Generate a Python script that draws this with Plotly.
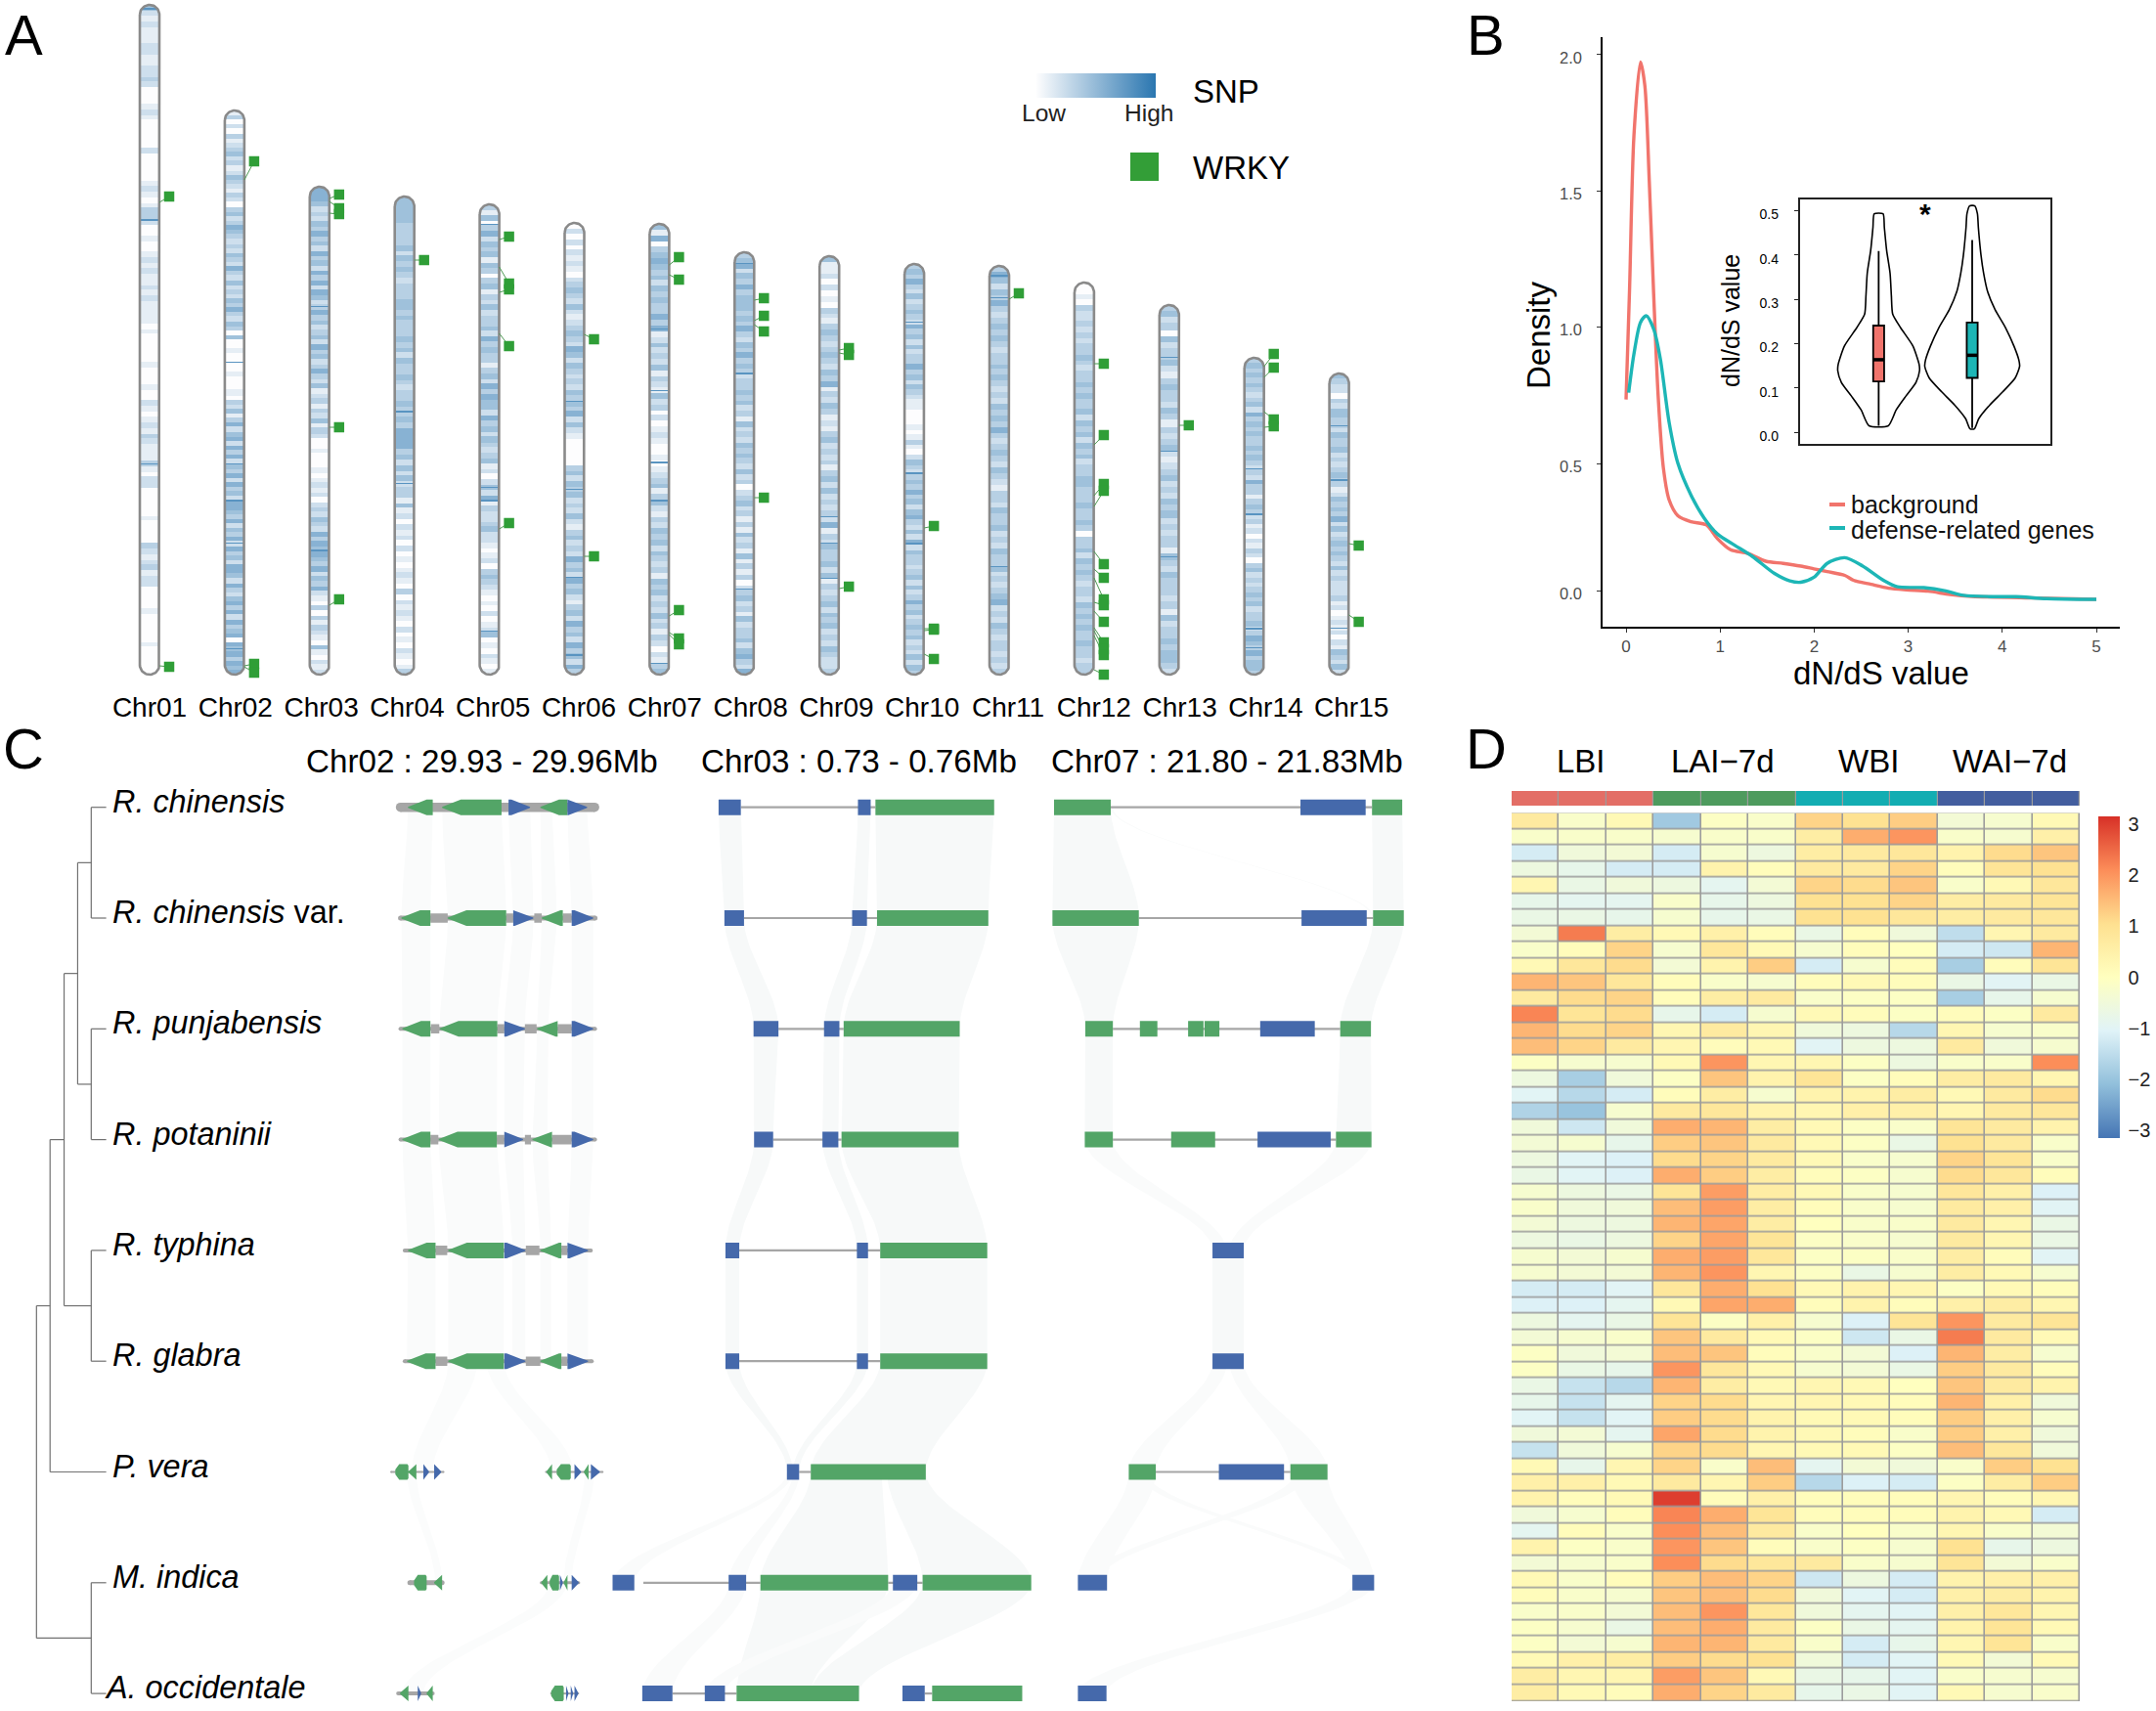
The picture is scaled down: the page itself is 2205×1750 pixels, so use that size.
import numpy as np
import plotly.graph_objects as go

W, H = 2205, 1750
FONT = "Liberation Sans"

# ---------------- Panel A data ----------------
CHR_NAMES = [f"Chr{i:02d}" for i in range(1, 16)]
CHR_LENGTHS = [685, 577, 499, 489, 481, 462, 461, 432, 428, 420, 418, 401, 378, 324, 308]
SNP_DENSITY = [
    "421211122112232" "00012100000" "2000001" "2101332" "001001" "2121121211" "11010" "00001000100" "21012132111" "31022" "0000010000" "32123122" "0000100000100000",
    "1302031234231243213203423543232432532423243532430" "4" "0010000100010" "3241352452535243525342554352435253425542532453525345" "0" "5453545",
    "5554232435342534253525423534234253423532412313241320" "0100010" "1212023243253545435243521030313210410212",
    "4444433334243432333443433343424334323343" "3435555342424233" "14" "1202120201012103021210201021013",
    "3140352434143034132423342534331342535442534243234" "1202425132234221" "0120343210102012" "4" "0102101",
    "0202021210234324212343254243232434352421" "00000" "34243423242134232534253421" "3425342534253",
    "4150345434243433535124232413214" "2302012100101" "2341342132434243231434232423" "1320213" "4",
    "3452435344434353243534323343423142324343242302342313142314131302" "3423142334245325",
    "4112020103213432343243513243121342323134242323" "2513243342413234243423243223",
    "34353242343253424233534243" "2110001013" "1024323" "435342453242524332342423534234342324243",
    "3542435323434323343432324343532343243213324334" "2324334232345232432332323",
    "001032232323343233434334243424342334433343343" "03342434323324343433433233",
    "3423042334213433243132342123423243423233143243332314233434432",
    "34343432342534343343432325331343231202132034232343423342354353443",
    "4322032443324334232343312434352423434324232223120121202143242",
]
# thin, strongly marked SNP bands: height above the chromosome base
SNP_PEAKS = [
    [681, 465, 215], [320, 215, 178, 134, 27], [376, 127], [269, 195], [460, 192, 178, 45],
    [280, 190, 99, 20], [354, 290, 217, 178, 11], [420, 308, 87], [162, 134, 99], [361, 206, 134],
    [408, 385, 110], [], [324, 229, 120], [211, 164, 47, 27], [255, 199, 47],
]
SNP_PEAK_VALUE = 7
WRKY_CHROM = [0, 0, 1, 1, 1, 2, 2, 2, 2, 2, 3, 4, 4, 4, 4, 4, 5, 5, 6, 6, 6, 6, 6, 7, 7, 7, 7, 8, 8, 8, 9, 9, 9, 9, 10,
              11, 11, 11, 11, 11, 11, 11, 11, 11, 11, 11, 11, 11, 12, 13, 13, 13, 13, 14, 14]
WRKY_GENE = [483, 9, 506, 9, 8, 487, 484, 472, 253, 71, 424, 445, 417, 391, 349, 149, 348, 121, 419, 409, 60, 43, 41,
             383, 362, 358, 181, 332, 329, 88, 150, 47, 45, 21, 384,
             318, 235, 183, 172, 126, 108, 99, 74, 65, 48, 45, 40, 5, 255, 315, 304, 269, 253, 134, 61]
WRKY_LABEL = [489, 8, 525, 11, 2, 491, 477, 471, 253, 77, 424, 448, 400, 394, 336, 155, 343, 121, 427, 404, 66, 37, 31,
              385, 367, 351, 181, 334, 327, 90, 152, 47, 46, 16, 390,
              318, 245, 195, 188, 113, 99, 77, 71, 54, 33, 26, 20, 0, 255, 328, 314, 261, 254, 132, 54]

# ---------------- Panel B data ----------------
BG_X = [0, .037, .084, .154, .2, .247, .294, .341, .397, .458, .551, .691, .854, .971, 1.111, 1.298, 1.485, 1.671, 1.858,
        1.998, 2.138, 2.325, 2.418, 2.605, 2.792, 2.978, 3.212, 3.445, 3.679, 4.379, 5]
BG_Y = [.735, 1.135, 1.703, 1.973, 1.886, 1.536, 1.119, .751, .484, .367, .309, .287, .275, .225, .184, .170, .142, .134,
        .124, .114, .104, .090, .072, .057, .043, .037, .032, .020, .013, .007, .002]
DEF_X = [.028, .084, .154, .215, .294, .364, .458, .551, .691, .831, .971, 1.158, 1.345, 1.578, 1.741, 1.858, 1.998,
         2.138, 2.325, 2.512, 2.745, 2.885, 3.165, 3.399, 3.585, 3.912, 4.146, 4.472, 5]
DEF_Y = [.760, .902, 1.018, 1.042, .993, .885, .651, .501, .384, .300, .242, .200, .159, .097, .070, .065, .083, .134,
         .155, .125, .070, .048, .045, .033, .017, .012, .012, .005, .002]
DENS_TICKS = [0.032, 0.5, 1.0, 1.5, 2.0]
DENS_TICK_TEXT = ["0.0", "0.5", "1.0", "1.5", "2.0"]
V1_Y = [.493, .462, .411, .359, .308, .267, .236, .195, .154, .139, .113, .082, .051, .015]
V1_W = [.047, .061, .085, .122, .136, .150, .235, .366, .432, .437, .399, .291, .188, .103]
V2_Y = [.511, .493, .462, .400, .359, .318, .277, .236, .195, .164, .149, .123, .092, .062, .031, .008]
V2_W = [.028, .056, .066, .094, .122, .164, .244, .357, .446, .498, .507, .460, .329, .188, .070, .023]
BOX_Q1 = [.115, .123]
BOX_MED = [.164, .174]
BOX_Q3 = [.241, .248]
BOX_LOW = [.015, .010]
BOX_UP = [.409, .434]

# ---------------- Panel C data ----------------
SPECIES = ["<i>R. chinensis</i>", "<i>R. chinensis</i> var.", "<i>R. punjabensis</i>", "<i>R. potaninii</i>",
           "<i>R. typhina</i>", "<i>R. glabra</i>", "<i>P. vera</i>", "<i>M. indica</i>", "<i>A. occidentale</i>"]
REGIONS = ["Chr02 : 29.93 - 29.96Mb", "Chr03 : 0.73 - 0.76Mb", "Chr07 : 21.80 - 21.83Mb"]
TREE = (78, [(107, [(137, [(166, [(195, [0, 1]), (195, [2, 3])]), (195, [4, 5])]), 6]), (195, [7, 8])])
TREE_TIP = 227
# (row, start, end, kind, strand)
GENES_A = [
    (0, 872, 925, "g", -1), (0, 945, 1072, "g", -1), (0, 1087, 1133, "b", 1), (0, 1155, 1213, "g", -1), (0, 1213, 1255, "b", 1),
    (1, 920, 957, "s", 0), (1, 1082, 1097, "s", 0), (1, 1142, 1158, "s", 0), (1, 1203, 1222, "s", 0),
    (1, 858, 920, "g", -1), (1, 957, 1082, "g", -1), (1, 1097, 1140, "b", 1), (1, 1158, 1203, "g", -1), (1, 1222, 1268, "b", 1),
    (2, 921, 939, "s", 0), (2, 1063, 1078, "s", 0), (2, 1122, 1147, "s", 0), (2, 1192, 1222, "s", 0),
    (2, 860, 920, "g", -1), (2, 940, 1063, "g", -1), (2, 1078, 1122, "b", 1), (2, 1148, 1192, "g", -1), (2, 1222, 1268, "b", 1),
    (3, 920, 937, "s", 0), (3, 1062, 1078, "s", 0), (3, 1122, 1135, "s", 0), (3, 1180, 1222, "s", 0),
    (3, 860, 920, "g", -1), (3, 938, 1062, "g", -1), (3, 1078, 1118, "b", 1), (3, 1138, 1180, "g", -1), (3, 1222, 1268, "b", 1),
    (4, 931, 956, "s", 0), (4, 1124, 1153, "s", 0), (4, 1200, 1213, "s", 0),
    (4, 872, 931, "g", -1), (4, 958, 1077, "g", -1), (4, 1078, 1123, "b", 1), (4, 1155, 1200, "g", -1), (4, 1213, 1257, "b", 1),
    (5, 931, 956, "s", 0), (5, 1124, 1155, "s", 0), (5, 1200, 1213, "s", 0),
    (5, 870, 931, "g", -1), (5, 958, 1077, "g", -1), (5, 1078, 1123, "b", 1), (5, 1155, 1200, "g", -1), (5, 1213, 1257, "b", 1),
    (6, 845, 873, "g", 2), (6, 873, 890, "g", -1), (6, 905, 917, "b", 1), (6, 928, 943, "b", 1),
    (6, 1168, 1180, "g", -1), (6, 1190, 1220, "g", 2), (6, 1228, 1242, "b", 1), (6, 1248, 1258, "g", -1), (6, 1263, 1282, "b", 1),
    (7, 885, 912, "g", 2), (7, 928, 945, "g", -1),
    (7, 1157, 1170, "g", -1), (7, 1175, 1195, "g", 2), (7, 1197, 1203, "b", 1), (7, 1205, 1213, "g", -1), (7, 1222, 1237, "b", 1),
    (8, 855, 873, "g", -1), (8, 893, 900, "b", 1), (8, 912, 925, "g", -1),
    (8, 1178, 1205, "g", 2), (8, 1210, 1215, "b", 1), (8, 1220, 1225, "b", 1), (8, 1228, 1236, "b", 1),
]
# (row, start, end, line width)
BACKBONE_A = [(0, 856, 1271, 9.5), (1, 856, 1272, 5), (2, 856, 1272, 4), (3, 856, 1272, 4), (4, 865, 1263, 4), (5, 865, 1265, 4),
              (6, 836, 948, 2), (6, 1167, 1288, 2), (7, 876, 945, 5), (7, 1157, 1237, 3), (8, 851, 925, 4), (8, 1178, 1236, 2)]
# (row, start, end, start on next row, end on next row)
RIBBONS_A = [
    (0, 872, 925, 858, 920), (0, 945, 1072, 957, 1082), (0, 1087, 1133, 1097, 1140), (0, 1155, 1180, 1158, 1190), (0, 1213, 1255, 1222, 1268),
    (1, 858, 920, 860, 920), (1, 957, 1082, 940, 1063), (1, 1097, 1140, 1078, 1122), (1, 1158, 1190, 1148, 1172), (1, 1222, 1268, 1222, 1268),
    (2, 860, 920, 860, 920), (2, 940, 1063, 938, 1062), (2, 1078, 1122, 1078, 1118), (2, 1148, 1172, 1138, 1170), (2, 1222, 1268, 1222, 1268),
    (3, 860, 920, 872, 931), (3, 938, 1062, 958, 1077), (3, 1078, 1118, 1095, 1123), (3, 1138, 1170, 1155, 1178), (3, 1222, 1268, 1213, 1257),
    (4, 872, 931, 870, 931), (4, 958, 1077, 958, 1077), (4, 1095, 1123, 1095, 1123), (4, 1155, 1178, 1155, 1178), (4, 1213, 1257, 1213, 1257),
]
RIBBONS_A_FAINT = [
    (5, 958, 1020, 880, 925), (5, 1040, 1077, 1178, 1225),
    (6, 870, 890, 930, 945), (6, 1250, 1270, 1205, 1222),
    (7, 1175, 1195, 860, 885), (7, 1195, 1212, 880, 905),
]
GENES_B = [
    (0, 212, 254, "b", 0), (0, 475, 499, "b", 0), (0, 508, 732, "g", 0),
    (1, 223, 260, "b", 0), (1, 464, 492, "b", 0), (1, 511, 721, "g", 0),
    (2, 278, 325, "b", 0), (2, 411, 440, "b", 0), (2, 448, 667, "g", 0),
    (3, 279, 315, "b", 0), (3, 408, 438, "b", 0), (3, 444, 665, "g", 0),
    (4, 225, 251, "b", 0), (4, 473, 494, "b", 0), (4, 517, 719, "g", 0),
    (5, 225, 251, "b", 0), (5, 473, 494, "b", 0), (5, 517, 719, "g", 0),
    (6, 341, 364, "b", 0), (6, 386, 603, "g", 0),
    (7, 12, 53, "b", 0), (7, 231, 264, "b", 0), (7, 291, 532, "g", 0), (7, 541, 587, "b", 0), (7, 597, 802, "g", 0),
    (8, 68, 125, "b", 0), (8, 186, 224, "b", 0), (8, 246, 386, "g", 0), (8, 386, 477, "g", 0), (8, 559, 601, "b", 0), (8, 615, 785, "g", 0),
    (0, 845, 952, "g", 0), (0, 1310, 1433, "b", 0), (0, 1445, 1502, "g", 0),
    (1, 842, 1005, "g", 0), (1, 1312, 1435, "b", 0), (1, 1447, 1505, "g", 0),
    (2, 904, 956, "g", 0), (2, 1007, 1040, "g", 0), (2, 1098, 1127, "g", 0), (2, 1129, 1157, "g", 0), (2, 1234, 1337, "b", 0), (2, 1385, 1443, "g", 0),
    (3, 903, 956, "g", 0), (3, 1066, 1149, "g", 0), (3, 1229, 1367, "b", 0), (3, 1377, 1444, "g", 0),
    (4, 1144, 1203, "b", 0), (5, 1144, 1203, "b", 0),
    (6, 986, 1037, "g", 0), (6, 1156, 1279, "b", 0), (6, 1291, 1361, "g", 0),
    (7, 890, 945, "b", 0), (7, 1408, 1449, "b", 0), (8, 890, 944, "b", 0),
]
BACKBONE_B = [(0, 254, 508), (1, 260, 511), (2, 325, 448), (3, 315, 444), (4, 251, 517), (5, 251, 517), (6, 364, 386),
              (7, 70, 291), (7, 532, 597), (8, 125, 246), (8, 601, 615),
              (0, 952, 1445), (1, 1005, 1447), (2, 956, 1385), (3, 956, 1377), (6, 1037, 1291)]
RIBBONS_B = [
    (0, 212, 254, 223, 260), (0, 475, 499, 464, 492), (0, 508, 732, 511, 721),
    (1, 223, 260, 278, 325), (1, 464, 492, 411, 440), (1, 511, 721, 448, 667),
    (2, 278, 325, 279, 315), (2, 411, 440, 408, 438), (2, 448, 667, 444, 665),
    (3, 279, 315, 225, 251), (3, 408, 438, 473, 494), (3, 444, 665, 517, 719),
    (4, 225, 251, 225, 251), (4, 473, 494, 473, 494), (4, 517, 719, 517, 719),
    (5, 225, 251, 341, 352), (5, 473, 494, 352, 364), (5, 517, 719, 386, 603),
    (6, 386, 520, 291, 532), (6, 530, 603, 597, 802),
    (7, 291, 532, 246, 386), (7, 597, 802, 386, 477),
    (0, 845, 952, 842, 1005), (0, 1445, 1502, 1447, 1505),
    (1, 842, 1005, 904, 956), (1, 1447, 1505, 1385, 1443),
    (2, 904, 956, 903, 956), (2, 1385, 1443, 1377, 1444),
    (4, 1144, 1203, 1144, 1203),
]
RIBBONS_B_FAINT = [
    (6, 341, 352, 12, 53), (6, 352, 364, 231, 264),
    (7, 231, 264, 68, 125), (7, 541, 587, 186, 224),
    (0, 952, 956, 1445, 1449),
    (3, 903, 956, 1144, 1170), (3, 1377, 1444, 1176, 1203),
    (5, 1144, 1172, 986, 1037), (5, 1176, 1203, 1291, 1361),
    (6, 986, 1037, 890, 945), (6, 1291, 1361, 1408, 1449), (6, 1000, 1020, 1420, 1440), (6, 1300, 1330, 900, 925),
    (7, 1408, 1449, 890, 944),
]

# ---------------- Panel D data ----------------
HEAT_GROUPS = ["LBI", "LAI\u22127d", "WBI", "WAI\u22127d"]
HEAT_GROUP_IDX = [0, 0, 0, 1, 1, 1, 2, 2, 2, 3, 3, 3]
HEAT_ROWS = [
    [0.7,-0.2,0.2,-1.9,-0.1,-0.2,1.2,1.0,1.3,-0.4,-0.3,0.2],
    [-0.2,-0.2,-0.2,-0.3,-0.2,-0.2,0.6,1.7,2.0,-0.2,-0.3,0.5],
    [-1.2,-0.5,-0.4,-1.2,-0.3,-0.6,0.6,0.7,0.8,0.4,1.1,1.4],
    [-0.6,-0.8,-1.2,-1.2,0.4,0.1,0.7,0.7,1.2,0.1,0.9,1.0],
    [0.3,-0.7,-0.5,-0.6,-0.9,-0.4,1.2,1.1,1.4,-0.2,0.2,0.8],
    [-0.8,-0.9,-0.9,-0.2,-0.8,-0.6,1.0,1.0,1.2,0.6,0.7,0.9],
    [-0.7,-0.7,-0.8,-0.3,-0.8,-0.7,1.0,1.0,0.8,0.6,0.7,0.8],
    [-0.4,2.3,0.6,0.2,0.5,0.1,-0.7,0.1,-0.5,-1.5,0.3,0.7],
    [-0.2,0.1,1.2,-0.3,0.8,0.2,-0.3,0.1,0.0,-1.2,-1.3,1.6],
    [0.2,0.8,1.1,-0.4,0.4,1.3,-1.2,-0.3,0.1,-1.8,0.1,0.9],
    [1.6,1.4,0.8,0.1,-0.2,-0.3,0.1,0.2,0.1,-0.7,-1.0,-0.7],
    [0.7,1.1,1.2,0.1,0.6,0.7,-0.2,-0.1,-0.1,-1.8,-0.8,-0.3],
    [2.2,0.9,1.1,-0.8,-1.2,-0.3,0.2,0.1,-0.1,0.1,-0.1,0.7],
    [1.6,1.1,1.2,0.3,0.7,0.3,-0.5,-0.6,-1.6,0.3,-0.3,-0.2],
    [1.5,1.2,0.7,0.3,0.1,0.2,-1.0,-0.6,-0.6,0.7,-0.5,-0.3],
    [-0.1,-0.3,-0.3,0.2,2.0,0.3,0.3,-0.1,-0.6,-0.2,-0.2,2.1],
    [-0.6,-1.8,-0.5,-0.1,1.4,0.4,0.9,-0.1,0.1,0.6,0.7,0.3],
    [-1.0,-1.6,-1.2,0.1,0.6,-0.3,0.4,0.4,0.6,0.2,0.7,1.1],
    [-1.7,-2.0,-0.3,0.7,0.8,0.4,0.3,0.5,0.5,0.3,0.7,0.8],
    [-0.5,-1.3,-0.5,1.7,1.6,0.6,0.2,-0.1,-0.2,0.9,0.7,0.4],
    [-0.4,-0.3,-0.8,1.3,1.4,0.7,0.2,-0.1,-0.7,1.0,0.7,-0.2],
    [-0.6,-1.0,-1.1,1.1,1.2,0.7,0.2,-0.2,-0.3,1.2,0.9,-0.2],
    [-0.7,-1.0,-1.1,1.7,1.3,0.6,0.1,-0.1,-0.3,1.1,0.8,0.1],
    [-0.3,-0.6,-0.7,0.9,1.9,0.6,0.2,-0.2,-0.3,0.8,0.5,-1.1],
    [-0.2,-0.5,-0.5,1.5,1.9,0.6,0.1,-0.2,-0.3,0.7,0.5,-1.0],
    [-0.4,-0.6,-0.6,1.6,1.8,0.6,0.0,-0.2,-0.2,0.7,0.3,-0.7],
    [-0.6,-0.7,-0.6,1.2,1.8,0.9,-0.1,-0.2,-0.3,0.7,0.3,-0.7],
    [-0.3,-0.4,-0.3,1.7,1.9,0.8,-0.1,-0.1,-0.2,0.6,0.1,-1.0],
    [-0.3,-0.4,-0.4,1.6,2.0,0.3,-0.1,-0.7,-0.3,0.6,0.2,-0.3],
    [-1.2,-1.2,-1.0,0.8,1.7,1.0,0.2,0.4,0.3,-0.1,0.2,0.1],
    [-1.1,-1.1,-0.9,0.2,1.8,1.7,0.1,0.4,0.1,0.5,0.6,0.3],
    [-0.6,-0.9,-0.7,0.9,-0.1,0.5,-0.3,-1.1,0.9,2.0,0.7,0.9],
    [-0.4,-0.3,-0.2,1.4,0.7,0.2,-0.1,-1.3,-0.7,2.3,0.7,0.2],
    [-0.1,-0.5,-0.4,1.5,1.4,0.1,-0.2,-0.4,-1.1,1.6,0.6,-0.3],
    [-0.1,-0.7,-0.8,2.0,0.8,0.2,-0.3,-0.4,-0.7,1.3,0.7,0.1],
    [-0.7,-1.4,-1.6,1.6,0.6,0.2,0.3,0.2,0.0,1.4,0.7,0.4],
    [-0.8,-1.4,-0.9,1.2,1.1,0.3,0.3,0.2,0.1,1.6,0.5,-0.5],
    [-1.0,-1.4,-1.0,1.3,1.1,0.4,0.2,0.2,0.1,1.3,0.5,-0.3],
    [-0.5,-0.4,-0.9,1.8,1.1,0.4,0.2,0.1,-0.2,1.3,0.5,-0.5],
    [-1.4,-0.5,-0.3,1.2,1.1,0.3,0.2,0.2,-0.1,1.5,0.8,-0.5],
    [0.2,-0.8,0.3,1.2,-0.2,1.5,-0.9,-0.4,-0.5,-0.2,1.3,1.0],
    [0.5,0.5,0.2,0.7,0.3,1.3,-1.6,-1.1,-1.2,-0.1,0.6,1.3],
    [0.4,0.1,0.2,3.0,0.1,0.5,0.1,0.1,0.1,0.3,0.1,0.3],
    [-0.5,-0.3,0.1,2.2,1.7,0.9,0.1,0.1,0.1,0.4,0.2,-1.2],
    [-0.9,0.1,-0.2,2.1,1.5,0.7,-0.2,0.0,-0.2,0.3,-0.2,-0.4],
    [0.4,-0.1,-0.2,2.0,1.4,0.1,-0.2,-0.1,-0.3,1.0,-0.8,-0.6],
    [-0.4,-0.3,-0.2,2.1,1.1,0.8,0.7,-0.2,-0.3,0.9,-0.4,-0.2],
    [0.2,-0.2,0.1,1.3,1.5,1.2,-1.3,-0.6,-1.2,0.4,0.5,0.5],
    [0.1,-0.2,-0.3,1.4,1.5,1.1,-0.5,-1.0,-1.2,0.5,0.6,0.4],
    [-0.2,-0.2,-0.4,1.5,2.0,0.8,-0.5,-0.9,-1.0,0.5,0.8,0.3],
    [-0.1,-0.3,-0.7,1.5,1.7,0.7,-0.1,-0.7,-0.9,0.4,0.9,0.2],
    [-0.1,-0.4,-0.3,1.6,1.6,0.7,-0.2,-1.2,-0.8,0.3,0.9,-0.2],
    [0.2,0.5,0.6,1.3,1.1,1.0,-0.5,-1.2,-1.0,0.2,-0.4,0.2],
    [0.6,0.3,0.3,1.9,1.4,0.2,-0.7,-0.8,-1.0,-0.2,-0.3,-0.3],
    [0.6,0.2,0.1,1.7,1.2,0.7,-0.8,-0.7,-1.0,0.2,-0.3,-0.2],
]

# ---------------- styles / helpers ----------------
RED, TEAL = "#F1746C", "#1DB6B6"
GREEN, BLUE, GRAY = "#53A567", "#4569AB", "#A6A6A6"
RIBBON_MAIN = "#F7F9F9"
RIBBON_PALE = "#FAFBFB"
RIBBON_FAINT = "#FBFCFC"
SNP_SCALE = [[0, "#FDFDFE"], [1, "#2A76B0"]]
HEAT_SCALE = [[i / 6, c] for i, c in enumerate(["#4575B4", "#91BFDB", "#E0F3F8", "#FFFFBF", "#FEE090", "#FC8D59", "#D73027"])]


def dx(a, b):
    return [a / W, b / W]


def dy(top, bottom):
    return [1 - bottom / H, 1 - top / H]


def px(x):
    return x / W


def py(y):
    return 1 - y / H


fig = go.Figure()
hidden = dict(visible=False, fixedrange=True)

# ---------------- Panel A ----------------
CHR_STEP = 86.9
LABEL_STEP = 87.8
CHR_FIRST = 153.0
HALF_PX = 10.0
ROW_PX = 1.5
A_RIGHT = 1500
a_xrange = [(0 - CHR_FIRST) / CHR_STEP, (A_RIGHT - CHR_FIRST) / CHR_STEP]
rx = HALF_PX / CHR_STEP
for i, (length, dens, peaks) in enumerate(zip(CHR_LENGTHS, SNP_DENSITY, SNP_PEAKS)):
    vals = [int(c) for c in dens]
    n = int(length / ROW_PX)
    edges = np.linspace(0, length, n + 1)
    mids = (edges[:-1] + edges[1:]) / 2
    # top of chromosome = first digit
    column = [vals[min(len(vals) - 1, int((length - m) / length * len(vals)))] for m in mids]
    for p in peaks:
        column[min(n - 1, int(p / length * n))] = SNP_PEAK_VALUE
    fig.add_trace(go.Heatmap(x=[i - rx, i + rx], y=edges, z=[[v] for v in column], coloraxis="coloraxis",
                             xaxis="x", yaxis="y", hoverinfo="skip"))
theta = np.linspace(0, np.pi / 2, 16)
mask_x, mask_y, line_x, line_y = [], [], [], []
for i, length in enumerate(CHR_LENGTHS):
    cx, sx = np.sin(theta) * rx, np.cos(theta) * HALF_PX
    for sgn in (-1, 1):
        mask_x += list(i + sgn * cx) + [i + sgn * rx * 1.1, i + sgn * rx * 1.1, None]
        mask_y += list(length - HALF_PX + sx) + [length - HALF_PX, length + 1, None]
        mask_x += list(i + sgn * cx) + [i + sgn * rx * 1.1, i + sgn * rx * 1.1, None]
        mask_y += list(HALF_PX - sx) + [HALF_PX, -1, None]
    top = np.linspace(np.pi, 0, 31)
    bot = np.linspace(0, -np.pi, 31)
    line_x += list(i + rx * np.cos(top)) + list(i + rx * np.cos(bot)) + [i - rx, None]
    line_y += list(length - HALF_PX + HALF_PX * np.sin(top)) + list(HALF_PX + HALF_PX * np.sin(bot)) + [length - HALF_PX, None]
fig.add_trace(go.Scatter(x=mask_x, y=mask_y, mode="lines", fill="toself", fillcolor="white", line=dict(width=0),
                         xaxis="x", yaxis="y", hoverinfo="skip", showlegend=False, cliponaxis=False))
fig.add_trace(go.Scatter(x=line_x, y=line_y, mode="lines", line=dict(color="#8A8A8A", width=2.6),
                         xaxis="x", yaxis="y", hoverinfo="skip", showlegend=False, cliponaxis=False))
MARK_GAP = 20 / CHR_STEP
cx_line, cy_line = [], []
for c, g, l in zip(WRKY_CHROM, WRKY_GENE, WRKY_LABEL):
    cx_line += [c + rx, c + MARK_GAP, None]
    cy_line += [g, l, None]
fig.add_trace(go.Scatter(x=cx_line, y=cy_line, mode="lines", line=dict(color="#4F9A55", width=1),
                         xaxis="x", yaxis="y", hoverinfo="skip", showlegend=False, cliponaxis=False))
fig.add_trace(go.Scatter(x=[c + MARK_GAP for c in WRKY_CHROM], y=WRKY_LABEL, mode="markers",
                         marker=dict(symbol="square", size=10.5, color="#2F9E37", line=dict(width=0)),
                         xaxis="x", yaxis="y", hoverinfo="skip", showlegend=False, cliponaxis=False))

# ---------------- Panel B ----------------
fig.add_trace(go.Scatter(x=BG_X, y=BG_Y, mode="lines", line=dict(color=RED, width=3.4, shape="spline", smoothing=0.8),
                         xaxis="x2", yaxis="y2", showlegend=False, name="background"))
fig.add_trace(go.Scatter(x=DEF_X, y=DEF_Y, mode="lines", line=dict(color=TEAL, width=3.4, shape="spline", smoothing=0.8),
                         xaxis="x2", yaxis="y2", showlegend=False, name="defense-related genes"))
for pos, ys, ws in ((1, V1_Y, V1_W), (2, V2_Y, V2_W)):
    vx = [pos - w for w in ws] + [pos + w for w in ws[::-1]] + [pos - ws[0]]
    vy = list(ys) + list(ys[::-1]) + [ys[0]]
    fig.add_trace(go.Scatter(x=vx, y=vy, mode="lines",
                             line=dict(color="black", width=1.6, shape="spline", smoothing=0.6),
                             xaxis="x3", yaxis="y3", hoverinfo="skip", showlegend=False))
BOX_WIDTH = 0.117
for k, col in enumerate((RED, TEAL)):
    fig.add_trace(go.Box(x=[k + 1], q1=[BOX_Q1[k]], median=[BOX_MED[k]], q3=[BOX_Q3[k]],
                         lowerfence=[BOX_LOW[k]], upperfence=[BOX_UP[k]], width=BOX_WIDTH, fillcolor=col,
                         line=dict(color="black", width=1.8), whiskerwidth=0, boxpoints=False,
                         xaxis="x3", yaxis="y3", showlegend=False))
    fig.add_trace(go.Scatter(x=[k + 1 - BOX_WIDTH / 2, k + 1 + BOX_WIDTH / 2], y=[BOX_MED[k]] * 2, mode="lines",
                             line=dict(color="black", width=3.5), xaxis="x3", yaxis="y3",
                             hoverinfo="skip", showlegend=False))

# ---------------- Panel C ----------------
GENE_HALF = 8.0 / 113.3
colors = {"g": GREEN, "b": BLUE, "s": GRAY}


def ribbon_paths(ribbons):
    xs, ys = [], []
    t = np.linspace(0, 1, 30)
    s = 3 * t ** 2 - 2 * t ** 3
    for r, a0, a1, b0, b1 in ribbons:
        left = a0 + (b0 - a0) * s
        right = a1 + (b1 - a1) * s
        rows = r + t
        xs += list(left) + list(right[::-1]) + [None]
        ys += list(rows) + list(rows[::-1]) + [None]
    return xs, ys


def gene_poly(row, start, end, strand):
    h = GENE_HALF
    n = 0.06 * h
    ln = end - start
    if strand == 0:
        return [start, end, end, start, start, None], [row - h, row - h, row + h, row + h, row - h, None]
    if strand == 2:
        tl, tr = ln * 0.3, ln * 0.08
        return ([start, start + tl, end - tr, end, end, end - tr, start + tl, start, None],
                [row - h * .3, row - h, row - h, row - h * .8, row + h * .8, row + h, row + h, row + h * .3, None])
    tip = min(40, ln)
    if strand == -1:
        return ([start, start + tip, end, end, start + tip, start, None],
                [row - n, row - h, row - h, row + h, row + h, row + n, None])
    return ([end, end - tip, start, start, end - tip, end, None],
            [row - n, row - h, row - h, row + h, row + h, row + n, None])


def add_genes(genes, xa):
    for key in ("s", "g", "b"):
        xs, ys = [], []
        for row, st, en, c, strand in genes:
            if c == key:
                a, b = gene_poly(row, st, en, strand)
                if key == "s":
                    b = [row + (v - row) * 0.6 if v is not None else None for v in b]
                xs += a
                ys += b
        fig.add_trace(go.Scatter(x=xs, y=ys, mode="lines", fill="toself", fillcolor=colors[key],
                                 line=dict(width=0, color=colors[key]), xaxis=xa, yaxis="y4",
                                 hoverinfo="skip", showlegend=False, cliponaxis=False))


for ribbons, xa, colr in ((RIBBONS_A, "x4", RIBBON_PALE), (RIBBONS_A_FAINT, "x4", RIBBON_FAINT),
                          (RIBBONS_B, "x5", RIBBON_MAIN), (RIBBONS_B_FAINT, "x5", RIBBON_PALE)):
    rx_, ry_ = ribbon_paths(ribbons)
    fig.add_trace(go.Scatter(x=rx_, y=ry_, mode="lines", fill="toself", fillcolor=colr, line=dict(width=0),
                             xaxis=xa, yaxis="y4", hoverinfo="skip", showlegend=False, cliponaxis=False))

# phylogeny computed from the node depths
tree_x, tree_y = [], []


def walk(node):
    if isinstance(node, int):
        return TREE_TIP, float(node)
    depth, kids = node
    pos = [walk(k) for k in kids]
    for kx, ky in pos:
        tree_x.extend([depth, kx, None])
        tree_y.extend([ky, ky, None])
    yy = [p[1] for p in pos]
    tree_x.extend([depth, depth, None])
    tree_y.extend([min(yy), max(yy), None])
    return depth, sum(yy) / len(yy)


walk(TREE)
fig.add_trace(go.Scatter(x=tree_x, y=tree_y, mode="lines", line=dict(color="#707070", width=1.2),
                         xaxis="x4", yaxis="y4", hoverinfo="skip", showlegend=False, cliponaxis=False))

for row, st, en, w in BACKBONE_A:
    fig.add_trace(go.Scatter(x=[st, en], y=[row, row], mode="lines+markers", line=dict(color=GRAY, width=w),
                             marker=dict(size=w, color=GRAY, line=dict(width=0)),
                             xaxis="x4", yaxis="y4", hoverinfo="skip", showlegend=False, cliponaxis=False))
bx, by = [], []
for row, st, en in BACKBONE_B:
    bx += [st, en, None]
    by += [row, row, None]
fig.add_trace(go.Scatter(x=bx, y=by, mode="lines", line=dict(color=GRAY, width=2.2),
                         xaxis="x5", yaxis="y4", hoverinfo="skip", showlegend=False, cliponaxis=False))
add_genes(GENES_A, "x4")
add_genes(GENES_B, "x5")

# ---------------- Panel D ----------------
D_LEFT, D_RIGHT, D_TOP, D_BOT = 1546, 2127, 831.5, 1740
fig.add_trace(go.Heatmap(z=HEAT_ROWS, coloraxis="coloraxis2", xgap=1.6, ygap=1.6, xaxis="x6", yaxis="y6", hoverinfo="skip"))
fig.add_trace(go.Heatmap(z=[HEAT_GROUP_IDX], xgap=1.2, zmin=0, zmax=3, showscale=False,
                         colorscale=[[0, "#E36E66"], [.25, "#E36E66"], [.25, "#4E9B5E"], [.5, "#4E9B5E"],
                                     [.5, "#13ADB2"], [.75, "#13ADB2"], [.75, "#435E9F"], [1, "#435E9F"]],
                         xaxis="x7", yaxis="y7", hoverinfo="skip"))

# ---------------- axes ----------------
C_TOP, C_BOT = 750, 1750
ROW0, ROWSTEP = 825.7, 113.3
layout = dict(
    width=W, height=H, margin=dict(l=0, r=0, t=0, b=0), paper_bgcolor="white", plot_bgcolor="rgba(0,0,0,0)",
    font=dict(family=FONT, color="black"), showlegend=False,
    # A
    xaxis=dict(domain=dx(0, A_RIGHT), range=a_xrange, showgrid=False, zeroline=False, showline=False,
               ticks="outside", ticklen=3, tickcolor="rgba(0,0,0,0)",
               tickmode="array", tickvals=[i * LABEL_STEP / CHR_STEP for i in range(15)], ticktext=CHR_NAMES,
               tickfont=dict(size=28, color="black"), fixedrange=True, anchor="y"),
    yaxis=dict(domain=dy(0, 695), range=[-5, 690], visible=False, fixedrange=True, anchor="x"),
    coloraxis=dict(cmin=0, cmax=9, colorscale=SNP_SCALE,
                   colorbar=dict(orientation="h", x=px(1060), xanchor="left", y=py(74.5), yanchor="top",
                                 lenmode="pixels", len=122, thicknessmode="pixels", thickness=25,
                                 outlinewidth=0, ticks="", showticklabels=False, xpad=0, ypad=0)),
    # B
    xaxis2=dict(domain=dx(1639, 2168), range=[(1639 - 1663) / 96.2, (2168 - 1663) / 96.2], anchor="y2",
                showline=True, linecolor="black", linewidth=1.5, ticks="outside", ticklen=4, tickcolor="#333",
                tickvals=[0, 1, 2, 3, 4, 5], tickfont=dict(size=17, color="#4D4D4D"), showgrid=False, zeroline=False,
                fixedrange=True),
    yaxis2=dict(domain=dy(38, 641), range=[(613.6 - 641) / 278.9, (613.6 - 38) / 278.9], anchor="x2",
                showline=True, linecolor="black", linewidth=1.5, ticks="outside", ticklen=4, tickcolor="#333",
                tickvals=DENS_TICKS, ticktext=DENS_TICK_TEXT, tickfont=dict(size=16.5, color="#4D4D4D"),
                showgrid=False, zeroline=False, fixedrange=True, ticklabelstandoff=12, ticklabelshift=3),
    # inset
    xaxis3=dict(domain=dx(1841, 2097), range=[0.16, 2.836], anchor="y3", showline=True, mirror=True, linecolor="#222",
                linewidth=1.5, ticks="", showticklabels=False, showgrid=False, zeroline=False, fixedrange=True),
    yaxis3=dict(domain=dy(204, 454), range=[-0.0258, 0.5254], anchor="x3", showline=True, mirror=True, linecolor="#222",
                linewidth=1.5, ticks="outside", ticklen=4.5, tickcolor="#222", tickvals=[0, .1, .2, .3, .4, .5],
                tickformat=".1f", tickfont=dict(size=14, color="black"), showgrid=False, zeroline=False, fixedrange=True,
                ticklabelstandoff=13, ticklabelshift=4),
    # C
    xaxis4=dict(domain=dx(0, 1500), range=[0, 1500 * 2.09], anchor="y4", **hidden),
    xaxis5=dict(domain=dx(0, 1500), range=[-620 * 1.845, 880 * 1.845], anchor="y4", overlaying="x4", **hidden),
    yaxis4=dict(domain=dy(C_TOP, C_BOT), range=[(C_BOT - ROW0) / ROWSTEP, (C_TOP - ROW0) / ROWSTEP], anchor="x4", **hidden),
    # D
    xaxis6=dict(domain=dx(D_LEFT, D_RIGHT), range=[-0.5, 11.5], anchor="y6", **hidden),
    yaxis6=dict(domain=dy(D_TOP, D_BOT), range=[54.5, -0.5], anchor="x6", **hidden),
    xaxis7=dict(domain=dx(D_LEFT, D_RIGHT), range=[-0.5, 11.5], anchor="y7", **hidden),
    yaxis7=dict(domain=dy(809, 824), range=[-0.5, 0.5], anchor="x7", **hidden),
    coloraxis2=dict(cmin=-3.16, cmax=3.16, colorscale=HEAT_SCALE,
                    colorbar=dict(x=px(2146), xanchor="left", y=py(835), yanchor="top", lenmode="pixels", len=329,
                                  thicknessmode="pixels", thickness=22, outlinewidth=0, xpad=0, ypad=0,
                                  tickvals=[-3, -2, -1, 0, 1, 2, 3], ticks="outside", ticklen=5, tickcolor="rgba(0,0,0,0)",
                                  tickfont=dict(size=20, color="#222"))),
)
fig.update_layout(**layout)

# ---------------- shapes + text ----------------
shapes = [
    dict(type="rect", xref="paper", yref="paper", x0=px(D_LEFT), x1=px(D_RIGHT), y0=py(D_TOP), y1=py(D_BOT),
         fillcolor="#9C9C9C", line_width=0, layer="below"),
    dict(type="rect", xref="paper", yref="paper", x0=px(D_LEFT), x1=px(D_RIGHT), y0=py(809), y1=py(824),
         fillcolor="#9C9C9C", line_width=0, layer="below"),
    dict(type="rect", xref="paper", yref="paper", x0=px(1156), x1=px(1185), y0=py(156), y1=py(185),
         fillcolor="#339E37", line_width=0),
    dict(type="line", xref="paper", yref="paper", x0=px(1871), x1=px(1887), y0=py(516), y1=py(516),
         line=dict(color=RED, width=4)),
    dict(type="line", xref="paper", yref="paper", x0=px(1871), x1=px(1887), y0=py(540), y1=py(540),
         line=dict(color=TEAL, width=4)),
]
ann = []


def text(x, y, s, size, anchor="center", **kw):
    ann.append(dict(x=px(x), y=py(y), xref="paper", yref="paper", text=s, showarrow=False, xanchor=anchor,
                    yanchor="middle", font=dict(size=size, color=kw.pop("color", "black"), family=FONT), **kw))


for letter, x, y in (("A", 24, 35), ("B", 1519, 35), ("C", 24, 765), ("D", 1520, 765)):
    text(x, y, letter, 58)
text(1067, 115.5, "Low", 24.5, color="#222")
text(1175, 115.5, "High", 24.5, color="#222")
text(1218, 93, "SNP", 33, anchor="left")
text(1218, 171, "WRKY", 33, anchor="left")
text(1574, 343, "Density", 33, textangle=-90)
text(1923.5, 688, "dN/dS value", 33)
text(1770, 328, "dN/dS value", 25, textangle=-90)
text(1969, 219, "<b>*</b>", 30)
text(1891, 516, "background", 25, anchor="left", color="#111")
text(1891, 542, "defense-related genes", 25, anchor="left", color="#111")
for s, x in zip(REGIONS, (493, 878, 1255)):
    text(x, 779, s, 33.2)
for s, x in zip(HEAT_GROUPS, (1617, 1762, 1911, 2055)):
    text(x, 779, s, 33)
for i, s in enumerate(SPECIES):
    x = 105 if i == 8 else 113
    text(x, ROW0 + ROWSTEP * i - 6, s, 32.4, anchor="left")

fig.update_layout(shapes=shapes, annotations=ann)
fig.write_html("out.html", config={"displayModeBar": False}, post_script="document.body.style.margin='0';")
